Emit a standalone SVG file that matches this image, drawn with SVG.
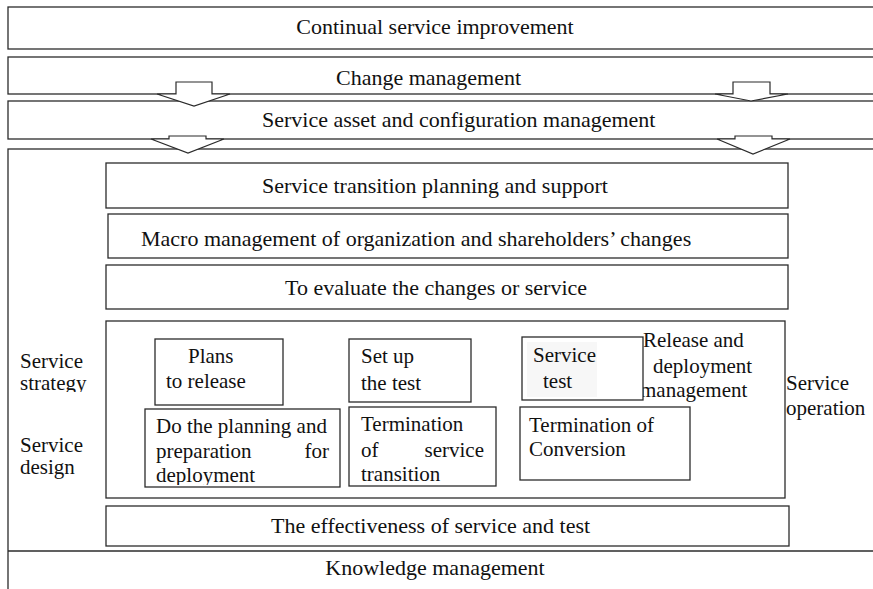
<svg xmlns="http://www.w3.org/2000/svg" width="873" height="589" viewBox="0 0 873 589">
  <style>
    .box { fill: #fff; stroke: #2b2b2b; stroke-width: 1.3; }
    .frame { fill: none; stroke: #2b2b2b; stroke-width: 1.3; }
    .lbl { font-size: 21px; fill: #111; }
    .band { font-size: 22px; fill: #111; }
    .mid { text-anchor: middle; }
    .arrow { fill: #fff; stroke: #2b2b2b; stroke-width: 1.2; stroke-linejoin: miter; }
  </style>
  <defs>
    <clipPath id="clipStrategy"><rect x="0" y="340" width="100" height="52"/></clipPath>
    <clipPath id="clipDeploy"><rect x="145" y="410" width="195" height="75"/></clipPath>
    <clipPath id="clipTransition"><rect x="349" y="407" width="147" height="78"/></clipPath>
  </defs>
  <rect width="873" height="589" fill="#fff"/>

  <g font-family="'Liberation Serif', 'Times New Roman', 'DejaVu Serif', serif">
  <!-- top bands -->
  <g id="continual-improvement">
    <rect class="box" x="8" y="7" width="880" height="42"/>
    <text class="band mid" x="435" y="34">Continual service improvement</text>
  </g>
  <g id="change-management">
    <rect class="box" x="8" y="57" width="880" height="37"/>
    <text class="band" x="336" y="85">Change management</text>
  </g>
  <g id="asset-configuration">
    <rect class="box" x="8" y="101" width="880" height="38"/>
    <text class="band" x="262" y="127">Service asset and configuration management</text>
  </g>

  <!-- transition frame -->
  <g id="transition-frame">
    <rect class="frame" x="8" y="149" width="880" height="450"/>
    <line class="frame" x1="8" y1="551" x2="873" y2="551"/>
  </g>
  <g id="knowledge-management">
    <text class="band mid" x="435" y="575">Knowledge management</text>
  </g>

  <!-- side labels -->
  <g id="service-strategy">
    <text class="lbl" x="20" y="368">Service</text>
    <text class="lbl" x="20" y="390" clip-path="url(#clipStrategy)">strategy</text>
  </g>
  <g id="service-design">
    <text class="lbl" x="20" y="452">Service</text>
    <text class="lbl" x="20" y="474">design</text>
  </g>

  <!-- stacked process bands -->
  <g id="planning-support">
    <rect class="box" x="106" y="163" width="682" height="45"/>
    <text class="band" x="262" y="193">Service transition planning and support</text>
  </g>
  <g id="macro-management">
    <rect class="box" x="108" y="214" width="680" height="44"/>
    <text class="band" x="141" y="246">Macro management of organization and shareholders’ changes</text>
  </g>
  <g id="evaluate-changes">
    <rect class="box" x="106" y="265" width="682" height="44"/>
    <text class="band" x="285" y="295">To evaluate the changes or service</text>
  </g>

  <!-- release and deployment management -->
  <g id="release-deployment">
    <rect class="box" x="106" y="321" width="679" height="177"/>
    <text class="lbl" x="643" y="347">Release and</text>
    <text class="lbl" x="653" y="373">deployment</text>
    <text class="lbl" x="640" y="397">management</text>
  </g>
  <g id="plans-release">
    <rect class="box" x="155" y="339" width="128" height="66"/>
    <text class="lbl" x="188" y="363">Plans</text>
    <text class="lbl" x="166" y="388">to release</text>
  </g>
  <g id="set-up-test">
    <rect class="box" x="349" y="339" width="122" height="63"/>
    <text class="lbl" x="361" y="363">Set up</text>
    <text class="lbl" x="361" y="390">the test</text>
  </g>
  <g id="service-test">
    <rect class="box" x="522" y="337" width="121" height="63"/>
    <rect x="527" y="342" width="70" height="55" fill="#f7f7f7"/>
    <text class="lbl" x="533" y="362">Service</text>
    <text class="lbl" x="543" y="388">test</text>
  </g>
  <g id="planning-preparation">
    <rect class="box" x="145" y="409" width="195" height="78"/>
    <text class="lbl" x="156" y="433">Do the planning and</text>
    <text class="lbl" x="156" y="458">preparation</text>
    <text class="lbl" x="329" y="458" text-anchor="end">for</text>
    <text class="lbl" x="156" y="482" clip-path="url(#clipDeploy)">deployment</text>
  </g>
  <g id="termination-transition">
    <rect class="box" x="349" y="407" width="147" height="79"/>
    <text class="lbl" x="361" y="431">Termination</text>
    <text class="lbl" x="361" y="457">of</text>
    <text class="lbl" x="484" y="457" text-anchor="end">service</text>
    <text class="lbl" x="361" y="481" clip-path="url(#clipTransition)">transition</text>
  </g>
  <g id="termination-conversion">
    <rect class="box" x="520" y="407" width="170" height="73"/>
    <text class="lbl" x="529" y="432">Termination of</text>
    <text class="lbl" x="529" y="456">Conversion</text>
  </g>
  <g id="effectiveness">
    <rect class="box" x="106" y="506" width="683" height="40"/>
    <text class="band" x="271" y="533">The effectiveness of service and test</text>
  </g>

  <g id="service-operation">
    <text class="lbl" x="786" y="390">Service</text>
    <text class="lbl" x="786" y="415">operation</text>
  </g>
  </g>

  <!-- block arrows between the bands -->
  <g id="connectors">
    <polygon class="arrow" points="176,82 212,82 212,94 230,94 194,106 157,94 176,94"/>
    <polygon class="arrow" points="733,82 770,82 770,94 788,94 751,101 715,94 733,94"/>
    <polygon class="arrow" points="169,136 206,136 206,139 224,139 188,153 151,139 169,139"/>
    <polygon class="arrow" points="735,136 772,136 772,139 790,139 753,154 717,139 735,139"/>
  </g>
</svg>
